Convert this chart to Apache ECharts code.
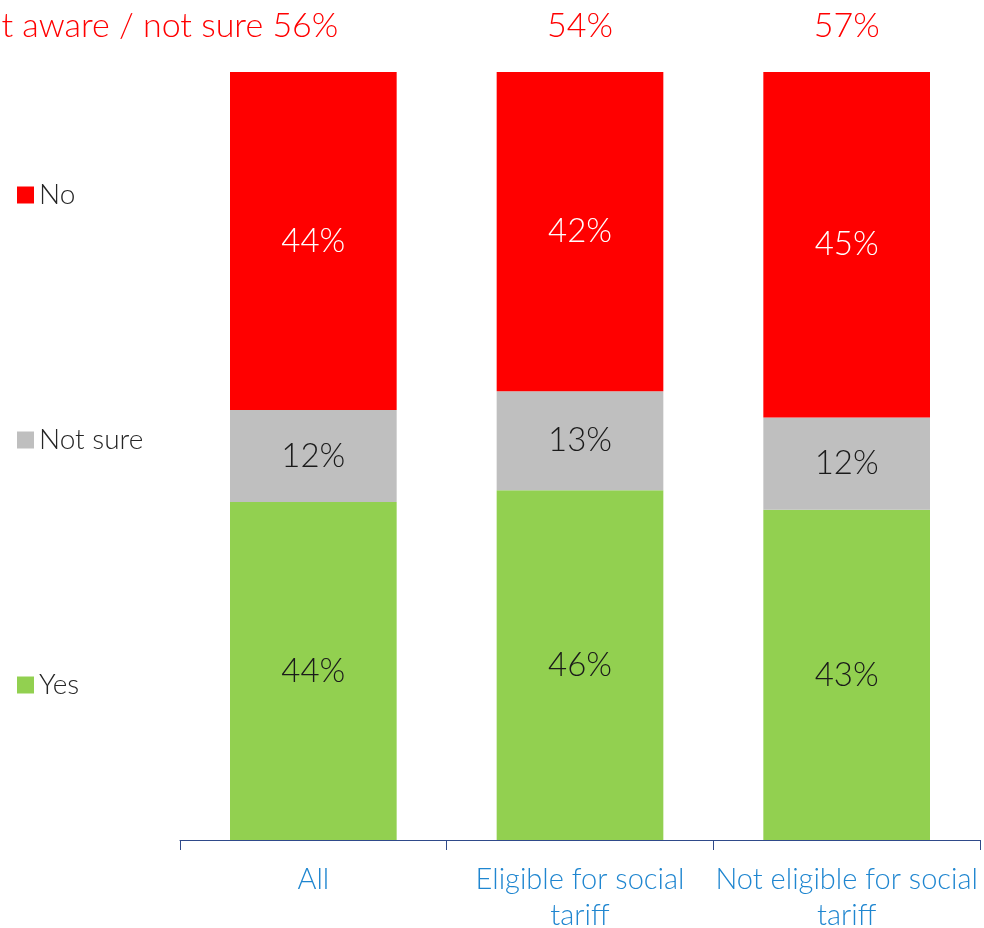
<!DOCTYPE html>
<html>
<head>
<meta charset="utf-8">
<script src="https://cdn.jsdelivr.net/npm/echarts@6/dist/echarts.min.js"></script>
<style>
  html, body { margin: 0; padding: 0; background: #fff; overflow: hidden; }
  #chart { width: 984px; height: 928px; }
</style>
</head>
<body>
<div id="chart"></div>
<script>
// Awareness of social tariff, stacked shares per group
const categories = ['All', 'Eligible for social\ntariff', 'Not eligible for social\ntariff'];
const yesValues = [44, 46, 43];
const notSureValues = [12, 13, 12];
const noValues = [44, 42, 45];
const topLabels = ['Not aware / not sure 56%', '54%', '57%'];

const FONT = 'Lato';
const RED = '#FF0000', GREY = '#BFBFBF', GREEN = '#92D050';

// Each bar fills the full height: shares are scaled by the group's total
const totals = categories.map((_, i) => yesValues[i] + notSureValues[i] + noValues[i]);
const scaled = arr => arr.map((v, i) => ({ value: v / totals[i] * 100, raw: v }));

function makeSeries(name, values, color, labelColor) {
  return {
    name: name,
    type: 'bar',
    stack: 'total',
    barWidth: '62.5%',
    data: scaled(values),
    itemStyle: { color: color },
    label: {
      show: true,
      position: 'inside',
      color: labelColor,
      fontFamily: FONT,
      fontWeight: 300,
      fontSize: 33,
      formatter: p => p.data.raw + '%'
    },
    emphasis: { disabled: true }
  };
}

const chart = echarts.init(document.getElementById('chart'));
chart.setOption({
  animation: false,
  grid: { left: 180, right: 4, top: 72, bottom: 88, containLabel: false, outerBoundsMode: 'none' },
  legend: {
    orient: 'vertical',
    left: 12,
    top: 175,
    data: ['No', 'Not sure', 'Yes'],
    icon: 'rect',
    itemWidth: 17,
    itemHeight: 17,
    itemGap: 215,
    selectedMode: false,
    textStyle: { fontFamily: FONT, fontWeight: 300, fontSize: 28, color: '#262626', lineHeight: 30 }
  },
  xAxis: {
    type: 'category',
    data: categories,
    axisLine: { lineStyle: { color: '#2F4A8A', width: 1 } },
    axisTick: { show: true, length: 10, lineStyle: { color: '#2F4A8A' } },
    axisLabel: {
      color: '#1F86D0',
      fontFamily: FONT,
      fontWeight: 300,
      fontSize: 29,
      lineHeight: 36,
      margin: 22,
      interval: 0
    }
  },
  yAxis: { type: 'value', min: 0, max: 100, show: false },
  series: [
    makeSeries('Yes', yesValues, GREEN, '#1A1A1A'),
    makeSeries('Not sure', notSureValues, GREY, '#1A1A1A'),
    makeSeries('No', noValues, RED, '#FFFFFF')
  ]
});

// Totals above each bar
const topY = 26;
chart.setOption({
  graphic: topLabels.map((t, i) => {
    const x = chart.convertToPixel({ xAxisIndex: 0 }, i);
    return {
      type: 'text',
      x: i === 0 ? x + 25 : x,
      y: topY,
      style: {
        text: t,
        fill: RED,
        font: '300 34px ' + FONT,
        align: i === 0 ? 'right' : 'center',
        verticalAlign: 'middle'
      }
    };
  })
});
</script>
</body>
</html>
